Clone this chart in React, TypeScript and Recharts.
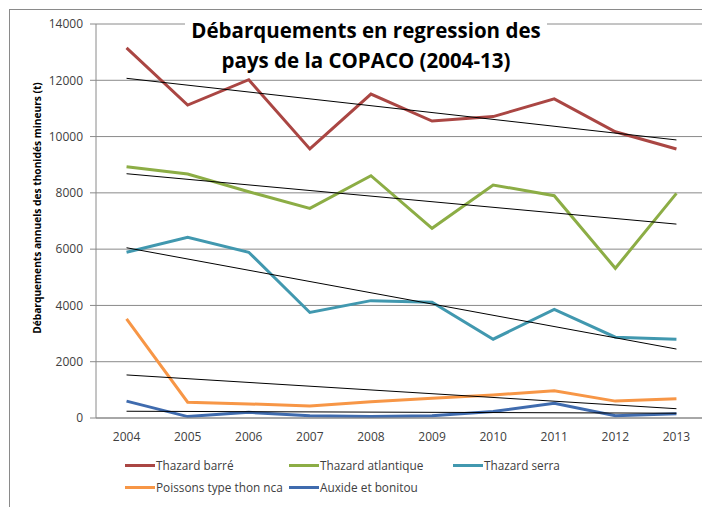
import { LineChart, Line, XAxis, YAxis, CartesianGrid, Legend } from 'recharts';

const years = ['2004', '2005', '2006', '2007', '2008', '2009', '2010', '2011', '2012', '2013'];
const thazardBarre = [13150, 11120, 12020, 9560, 11510, 10550, 10710, 11340, 10170, 9560];
const thazardAtlantique = [8930, 8670, 8040, 7450, 8610, 6740, 8280, 7900, 5320, 7980];
const thazardSerra = [5890, 6420, 5890, 3750, 4170, 4110, 2800, 3860, 2870, 2800];
const poissonsThon = [3520, 560, 500, 430, 580, 700, 820, 970, 600, 680];
const auxideBonitou = [600, 50, 200, 80, 50, 80, 230, 520, 80, 150];

// trend line end points (2004, 2013)
const trendBarre = [12070, 9880];
const trendAtlantique = [8680, 6890];
const trendSerra = [6050, 2450];
const trendThon = [1530, 330];
const trendAuxide = [240, 170];

const yTicks = [0, 2000, 4000, 6000, 8000, 10000, 12000, 14000];

const last = years.length - 1;
const endPoint = (t: number[], i: number) => (i === 0 ? t[0] : i === last ? t[1] : null);

const data = years.map((year, i) => ({
  x: i + 0.5,
  year,
  barre: thazardBarre[i],
  atlantique: thazardAtlantique[i],
  serra: thazardSerra[i],
  thon: poissonsThon[i],
  auxide: auxideBonitou[i],
  tBarre: endPoint(trendBarre, i),
  tAtlantique: endPoint(trendAtlantique, i),
  tSerra: endPoint(trendSerra, i),
  tThon: endPoint(trendThon, i),
  tAuxide: endPoint(trendAuxide, i),
}));

const series = [
  { key: 'barre', name: 'Thazard barré', color: '#AA4643' },
  { key: 'atlantique', name: 'Thazard atlantique', color: '#8CAD45' },
  { key: 'serra', name: 'Thazard serra', color: '#4198AF' },
  { key: 'thon', name: 'Poissons type thon nca', color: '#F79646' },
  { key: 'auxide', name: 'Auxide et bonitou', color: '#3F6BAE' },
];
const trends = ['tBarre', 'tAtlantique', 'tSerra', 'tThon', 'tAuxide'];

const axisColor = '#8a8a8a';

function LegendContent({ payload }: any) {
  const names = series.map((s) => s.name);
  const items = (payload || [])
    .filter((p: any) => p.type !== 'none' && names.includes(p.value))
    .sort((a: any, b: any) => names.indexOf(a.value) - names.indexOf(b.value));
  return (
    <div style={{ display: 'flex', flexWrap: 'wrap', width: 492 }}>
      {items.map((p: any) => (
        <div key={p.value} style={{ display: 'flex', alignItems: 'center', height: 22, minWidth: 164 }}>
          <span style={{ display: 'inline-block', width: 30, height: 3, background: p.color }} />
          <span style={{ marginLeft: 1, fontSize: 11.8, color: '#404040' }}>{p.value}</span>
        </div>
      ))}
    </div>
  );
}

export default function App() {
  return (
    <div
      style={{
        position: 'relative',
        marginLeft: 1,
        marginTop: 1,
        width: 700,
        height: 497,
        borderLeft: `1px solid ${axisColor}`,
        borderTop: `1px solid ${axisColor}`,
        fontFamily: "'Open Sans', sans-serif",
      }}
    >
      <LineChart width={700} height={497} data={data} margin={{ top: 14, right: 3, bottom: 59, left: 0 }}>
        <CartesianGrid vertical={false} stroke={axisColor} />
        <XAxis
          xAxisId="a"
          dataKey="x"
          type="number"
          domain={[0, 10]}
          ticks={[0, 1, 2, 3, 4, 5, 6, 7, 8, 9, 10]}
          tick={false}
          tickSize={5}
          height={5}
          stroke={axisColor}
        />
        <XAxis
          xAxisId="b"
          dataKey="x"
          type="number"
          domain={[0, 10]}
          ticks={data.map((d) => d.x)}
          tickFormatter={(v: number) => years[Math.floor(v)]}
          axisLine={false}
          tickLine={false}
          tickSize={4}
          tickMargin={5}
          height={25}
          tick={{ fontSize: 12, fill: '#404040' }}
        />
        <YAxis
          domain={[0, 14000]}
          ticks={yTicks}
          width={86}
          tickSize={6}
          tickMargin={7}
          stroke={axisColor}
          tick={{ fontSize: 12, fill: '#404040' }}
          label={{
            value: 'Débarquements annuels des thonidés mineurs (t)',
            angle: -90,
            position: 'insideLeft',
            offset: 27,
            dy: -13,
            style: { textAnchor: 'middle', fontSize: 10.2, fontWeight: 700, fill: '#000' },
          }}
        />
        {series.map((s) => (
          <Line
            key={s.key}
            xAxisId="a"
            dataKey={s.key}
            name={s.name}
            stroke={s.color}
            strokeWidth={3}
            dot={false}
            activeDot={false}
            isAnimationActive={false}
          />
        ))}
        {trends.map((k) => (
          <Line
            key={k}
            xAxisId="a"
            dataKey={k}
            stroke="#000"
            strokeWidth={1}
            dot={false}
            activeDot={false}
            connectNulls
            legendType="none"
            isAnimationActive={false}
          />
        ))}
        <Legend
          layout="horizontal"
          align="center"
          verticalAlign="middle"
          content={<LegendContent />}
          wrapperStyle={{ left: 115, top: 444, width: 492, height: 44 }}
        />
      </LineChart>
      <div
        style={{
          position: 'absolute',
          left: 175,
          top: 5,
          width: 362,
          background: '#fff',
          textAlign: 'center',
          fontSize: 20.5,
          fontWeight: 700,
          lineHeight: '30px',
          color: '#000',
        }}
      >
        Débarquements en regression des
        <br />
        pays de la COPACO (2004-13)
      </div>
    </div>
  );
}
